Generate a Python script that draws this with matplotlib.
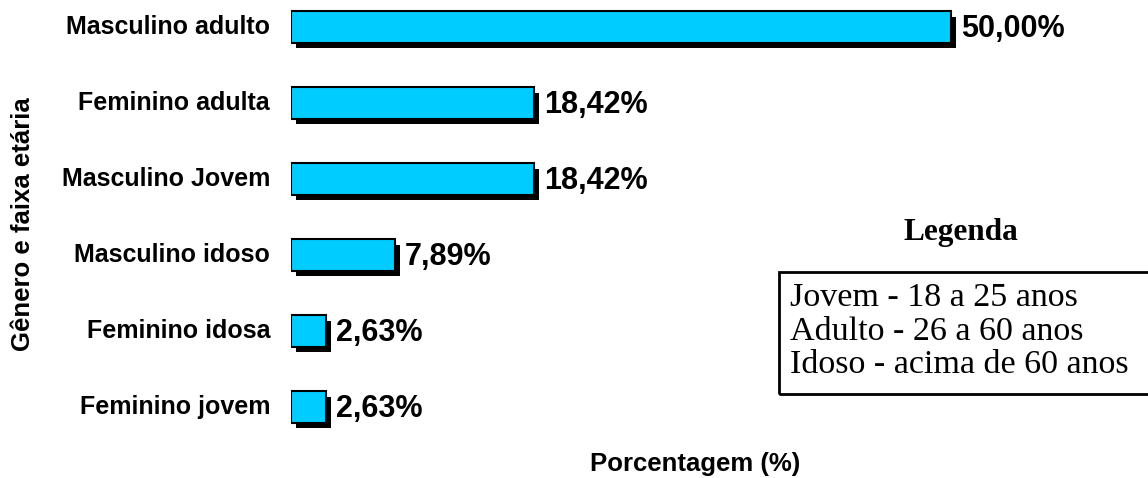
import matplotlib.pyplot as plt
import matplotlib.transforms as mtransforms
from matplotlib.patches import Rectangle

categorias = ['Masculino adulto', 'Feminino adulta', 'Masculino Jovem',
              'Masculino idoso', 'Feminino idosa', 'Feminino jovem']
valores = [50.00, 18.42, 18.42, 7.89, 2.63, 2.63]
rotulos = ['50,00%', '18,42%', '18,42%', '7,89%', '2,63%', '2,63%']
legenda = ['Jovem - 18 a 25 anos', 'Adulto - 26 a 60 anos', 'Idoso - acima de 60 anos']

W, H = 1148, 478
fig = plt.figure(figsize=(W / 100, H / 100), dpi=100)

# eixo: x=0 em 291 px, 50% em 951 px
x0, x50 = 291, 951
ppu = (x50 - x0) / 50.0
ax = fig.add_axes([x0 / W, 0, 1 - x0 / W, 1])
ax.set_xlim(0, (W - x0) / ppu)
y0, dy = 27, 76
ax.set_ylim((H - y0) / dy, -y0 / dy)
ax.axis('off')

pos = list(range(len(valores)))
sombra = ax.transData + mtransforms.ScaledTranslation(0.05, -0.055, fig.dpi_scale_trans)
ax.barh(pos, valores, height=0.41, color='black', transform=sombra, zorder=1)
ax.barh(pos, valores, height=0.41, color='#00CCFF', edgecolor='black', linewidth=1.5, zorder=2)

for p, v, r, c in zip(pos, valores, rotulos, categorias):
    ax.annotate(r, (v, p), xytext=(10, -2), textcoords='offset pixels', va='center', ha='left',
                fontsize=22, fontweight='bold', family='Liberation Sans')
    ax.annotate(c, (0, p), xytext=(-21, 0), textcoords='offset pixels', va='center', ha='right',
                fontsize=18, fontweight='bold', family='Liberation Sans', annotation_clip=False)

fig.text(23 / W, 1 - 224 / H, 'Gênero e faixa etária', rotation=90, va='center', ha='center',
         fontsize=18.5, fontweight='bold', family='Liberation Sans')
fig.text(695 / W, 1 - 471 / H, 'Porcentagem (%)', va='baseline', ha='center',
         fontsize=18.5, fontweight='bold', family='Liberation Sans')

fig.text(961 / W, 1 - 240 / H, 'Legenda', va='baseline', ha='center',
         fontsize=22.5, fontweight='bold', family='Liberation Serif')
fig.patches.append(Rectangle((779 / W, 1 - 394 / H), (W + 5 - 779) / W, 122 / H,
                             transform=fig.transFigure, fill=False, edgecolor='black', linewidth=2))
for i, t in enumerate(legenda):
    fig.text(790 / W, 1 - (306 + 33.5 * i) / H, t, va='baseline', ha='left',
             fontsize=24.5, family='Liberation Serif')

fig.savefig('out.png', dpi=100)
